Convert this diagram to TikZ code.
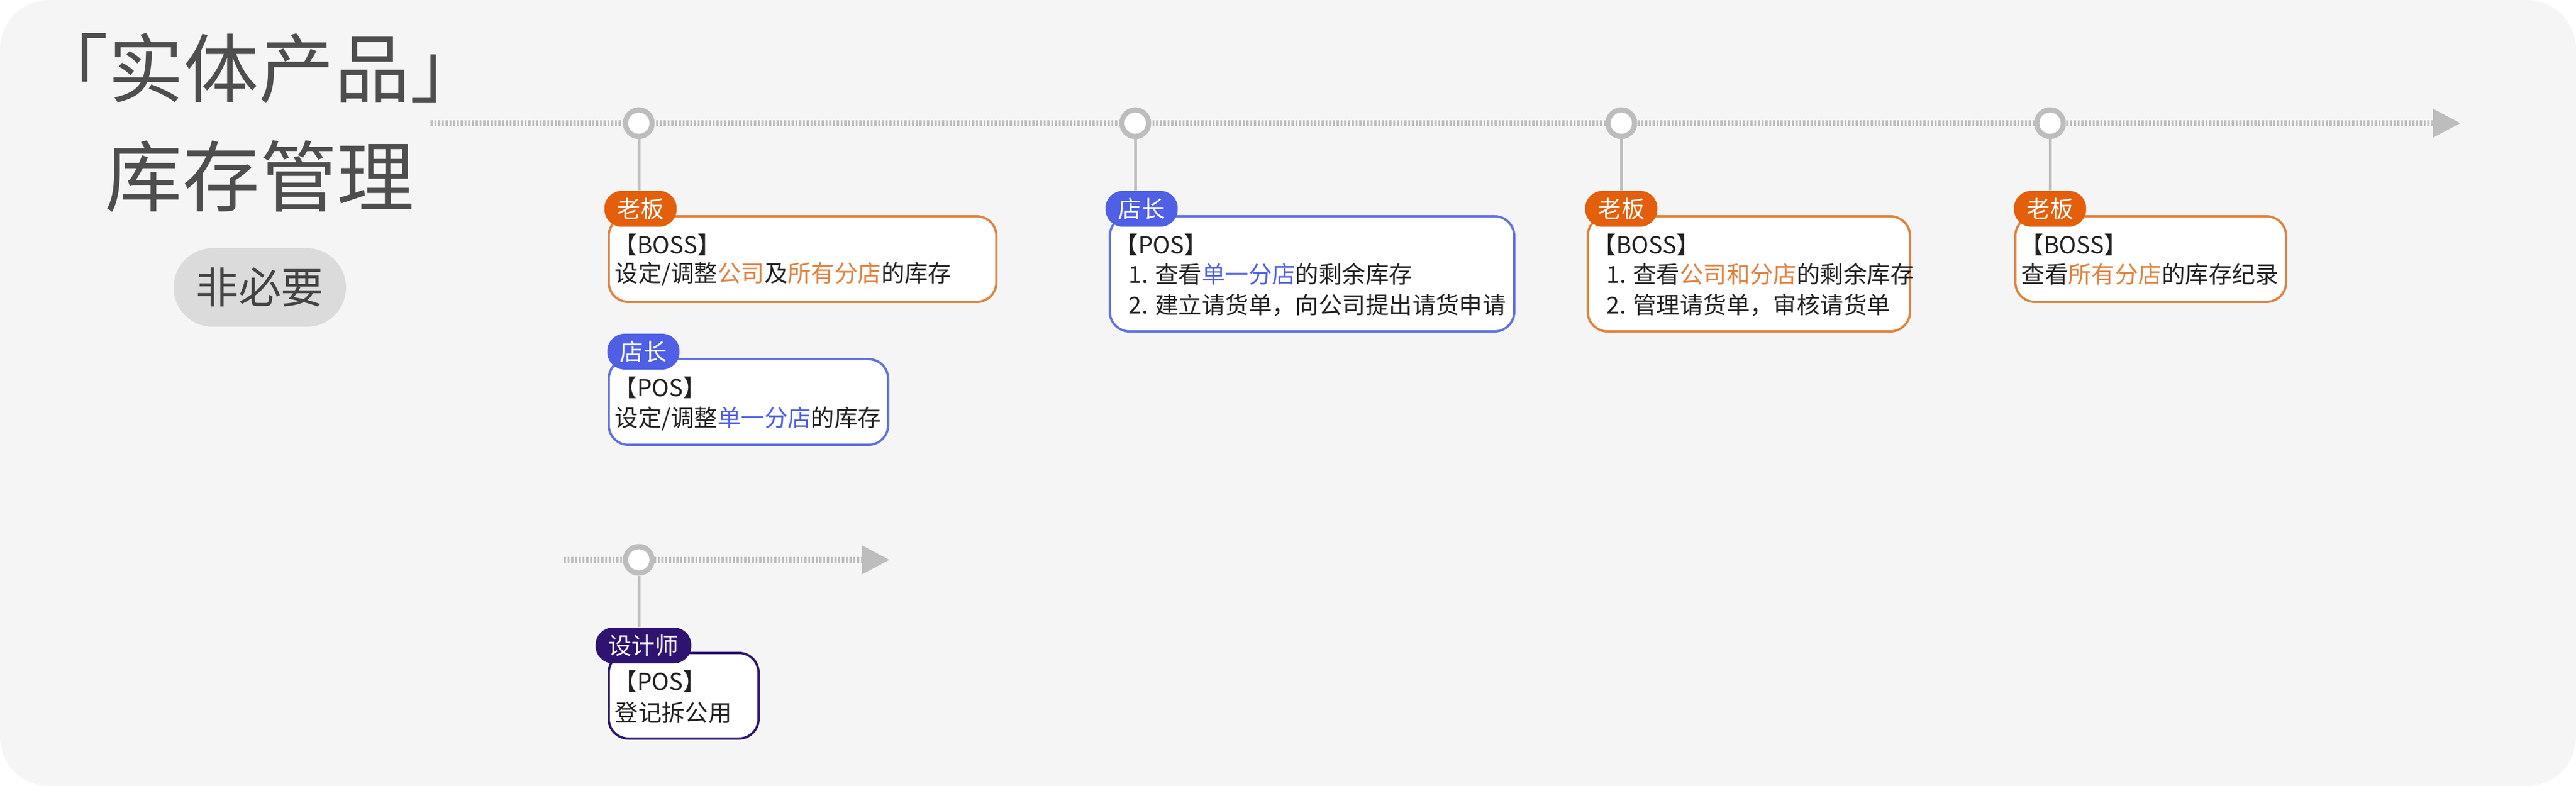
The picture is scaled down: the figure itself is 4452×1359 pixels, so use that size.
\documentclass[tikz,border=0pt]{standalone}
\usepackage{fontspec}
\setmainfont{Noto Sans CJK SC}
\usetikzlibrary{arrows.meta}
\definecolor{bg}{HTML}{F5F5F5}
\definecolor{tl}{HTML}{BDBDBD}
\definecolor{org}{HTML}{E35F0C}
\definecolor{orgb}{HTML}{E0823F}
\definecolor{blu}{HTML}{4F5FE6}
\definecolor{blub}{HTML}{6272E0}
\definecolor{pur}{HTML}{2E1370}
\definecolor{txt}{HTML}{222222}
\newcommand{\og}[1]{\textcolor{orgb}{#1}}
\newcommand{\bl}[1]{\textcolor{blu}{#1}}
\begin{document}
\begin{tikzpicture}[x=0.1mm,y=-0.1mm,
  tline/.style={draw=tl,line width=1mm,dash pattern=on 0.35mm off 0.3mm},
  arr/.style={draw=none,fill=tl},
  dot/.style={circle,draw=tl,fill=white,line width=0.9mm,minimum size=4.6mm,inner sep=0pt},
  stem/.style={draw=tl,line width=0.5mm},
  box/.style={draw=#1,fill=white,line width=0.4mm,rounded corners=3.4mm,anchor=north west,inner sep=0pt},
  badge/.style={fill=#1,text=white,rounded corners=3mm,minimum height=6.2mm,inner xsep=2.2mm,inner ysep=0pt,font=\fontsize{11.5pt}{13pt}\selectfont},
  lbl/.style={anchor=west,inner sep=0pt,text=txt,font=\fontsize{11.5pt}{13pt}\selectfont},
]
\useasboundingbox (0,0) rectangle (4452,1359);
\fill[white] (0,0) rectangle (4452,1359);
\fill[bg,rounded corners=8.5mm] (0,0) rectangle (4452,1359);

% title
\node[text=txt!80,font=\fontsize{37pt}{42pt}\selectfont] (t1) at (448,118) {「实体产品」};
\node[text=txt!80,font=\fontsize{38pt}{42pt}\selectfont] (t2) at (449,305) {库存管理};
\node[fill=black!14,text=txt!85,rounded corners=6.8mm,minimum width=29.8mm,minimum height=13.6mm,font=\fontsize{21pt}{24pt}\selectfont] (t3) at (449,497) {非必要};

% main timeline
\coordinate (s1) at (744,213);
\coordinate (e1) at (4215,213);
\draw[tline] (s1) -- (e1);
\fill[arr] (4205,188) -- (4252,213) -- (4205,238) -- cycle;
\coordinate (s2) at (974,968);
\coordinate (e2) at (1500,968);
\draw[tline] (s2) -- (e2);
\fill[arr] (1490,943) -- (1537,968) -- (1490,993) -- cycle;

\foreach \n/\x/\y in {d1/1104/213,d2/1962/213,d3/2802/213,d4/3543/213,d5/1104/968}
  \node[dot] (\n) at (\x,\y) {};

% boxes
\node[box=orgb,minimum width=67mm,minimum height=14.8mm] (b1) at (1050,372) {};
\node[box=blub,minimum width=48.3mm,minimum height=14.8mm] (b2) at (1050,619) {};
\node[box=blub,minimum width=69.9mm,minimum height=19.9mm] (b3) at (1916,372) {};
\node[box=orgb,minimum width=55.7mm,minimum height=19.9mm] (b4) at (2742,372) {};
\node[box=orgb,minimum width=46.8mm,minimum height=14.8mm] (b5) at (3481,372) {};
\node[box=pur,minimum width=25.9mm,minimum height=14.8mm] (b6) at (1050,1127) {};

% badges
\node[badge=org] (g1) at (1107,361) {老板};
\node[badge=blu] (g2) at (1112,608) {店长};
\node[badge=blu] (g3) at (1973,361) {店长};
\node[badge=org] (g4) at (2802,361) {老板};
\node[badge=org] (g5) at (3543,361) {老板};
\node[badge=pur] (g6) at (1112,1116) {设计师};

% stems
\draw[stem] (d1) -- (g1.north -| d1);
\draw[stem] (d2) -- (g3.north -| d2);
\draw[stem] (d3) -- (g4.north -| d3);
\draw[stem] (d4) -- (g5.north -| d4);
\draw[stem] (d5) -- (g6.north -| d5);

% texts
\node[lbl] (x11) at (1060,423) {【BOSS】};
\node[lbl] (x12) at (1062,474) {设定/调整\og{公司}及\og{所有分店}的库存};
\node[lbl] (x21) at (1060,670) {【POS】};
\node[lbl] (x22) at (1062,724) {设定/调整\bl{单一分店}的库存};
\node[lbl] (x31) at (1926,423) {【POS】};
\node[lbl] (x32) at (1950,474) {1. 查看\bl{单一分店}的剩余库存};
\node[lbl] (x33) at (1950,528) {2. 建立请货单，向公司提出请货申请};
\node[lbl] (x41) at (2752,423) {【BOSS】};
\node[lbl] (x42) at (2776,474) {1. 查看\og{公司和分店}的剩余库存};
\node[lbl] (x43) at (2776,528) {2. 管理请货单，审核请货单};
\node[lbl] (x51) at (3491,423) {【BOSS】};
\node[lbl] (x52) at (3493,474) {查看\og{所有分店}的库存纪录};
\node[lbl] (x61) at (1060,1178) {【POS】};
\node[lbl] (x62) at (1062,1232) {登记拆公用};
\end{tikzpicture}
\end{document}
